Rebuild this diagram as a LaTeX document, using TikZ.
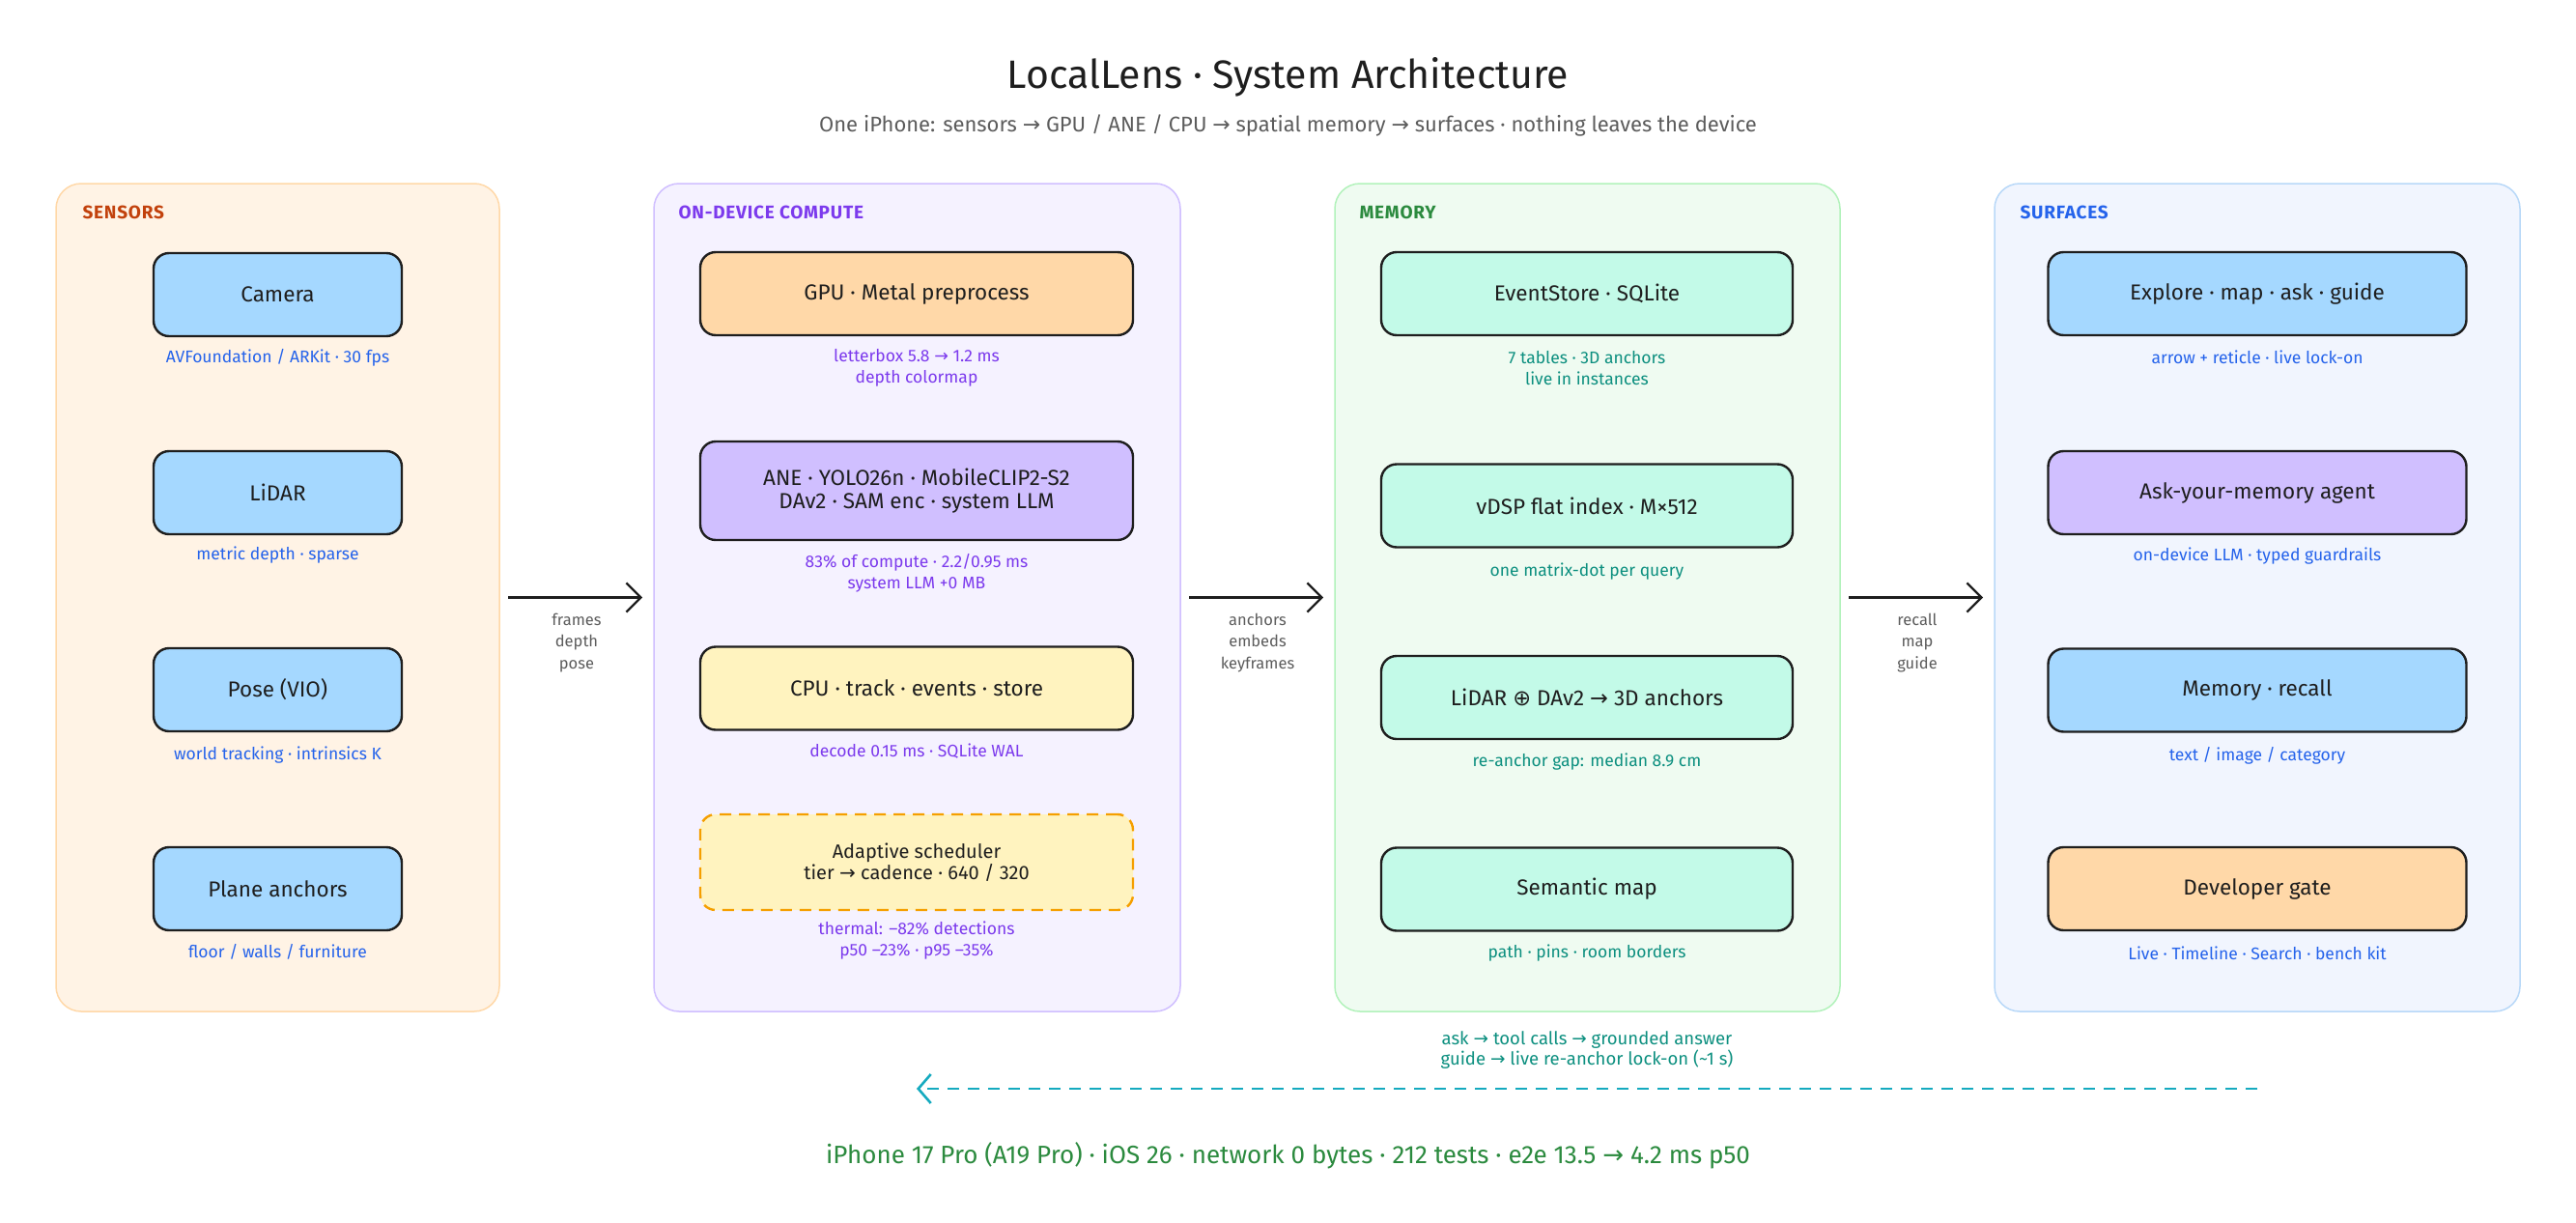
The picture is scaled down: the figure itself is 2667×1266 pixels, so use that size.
\documentclass[tikz,border=0pt]{standalone}
\usepackage{fontspec}
\setmainfont{Fira Sans}
\newfontfamily\symf{DejaVu Sans}
\usetikzlibrary{arrows.meta}

\newcommand\rarr{{\symf →}}
\newcommand\oplusg{{\symf ⊕}}

\definecolor{ink}{HTML}{1E1E1E}
\definecolor{sensbg}{HTML}{FFF3E5}
\definecolor{sensln}{HTML}{FFD8A8}
\definecolor{senstx}{HTML}{C2410C}
\definecolor{compbg}{HTML}{F5F2FF}
\definecolor{compln}{HTML}{D0BFFF}
\definecolor{comptx}{HTML}{7C3AED}
\definecolor{membg}{HTML}{EFFBF1}
\definecolor{memln}{HTML}{B2F2BB}
\definecolor{memtx}{HTML}{2B8A3E}
\definecolor{memnote}{HTML}{0C8F7F}
\definecolor{surfbg}{HTML}{F1F5FE}
\definecolor{surfln}{HTML}{B8D8F8}
\definecolor{surftx}{HTML}{2563EB}
\definecolor{blueb}{HTML}{A5D8FF}
\definecolor{orangeb}{HTML}{FFD8A8}
\definecolor{violetb}{HTML}{D0BFFF}
\definecolor{yellowb}{HTML}{FFF3BF}
\definecolor{mintb}{HTML}{C3FAE8}
\definecolor{schedln}{HTML}{F59F00}
\definecolor{backln}{HTML}{15AABF}
\definecolor{grayt}{HTML}{5C5C5C}
\definecolor{footg}{HTML}{2B8A3E}

\begin{document}
\begin{tikzpicture}[x=1pt, y=-1pt,
    panel/.style={draw, line width=1.5pt, rounded corners=26pt, minimum height=857pt, inner sep=0pt, outer sep=0pt},
    ptitle/.style={anchor=west, font=\fontsize{19}{21}\selectfont\bfseries\addfontfeature{LetterSpace=4}},
    blk/.style={draw=ink, line width=2.4pt, rounded corners=16pt, minimum height=86pt, inner sep=0pt, align=center, text=ink, font=\fontsize{22.5}{24}\selectfont},
    note/.style={align=center, font=\fontsize{17.5}{22}\selectfont},
    flowlbl/.style={align=center, text=grayt, font=\fontsize{16.5}{22.5}\selectfont},
    flow/.style={-{Straight Barb[length=15pt,width=30pt,line width=2.2pt]}, line width=2.2pt, draw=ink, shorten <=9pt, shorten >=12pt},
    backflow/.style={-{Straight Barb[length=13pt,width=30pt,line width=2.6pt]}, line width=2.6pt, draw=backln, dash pattern=on 12pt off 9pt}
]
    \useasboundingbox (0,0) rectangle (2667,1266);

    % title
    \node[font=\fontsize{41}{46}\selectfont, text=ink] (ttl) at (1333.5,80) {LocalLens · System Architecture};
    \node[font=\fontsize{22}{26}\selectfont, text=grayt] (sub) at (1333.5,130) {One iPhone: sensors \rarr{} GPU / ANE / CPU \rarr{} spatial memory \rarr{} surfaces · nothing leaves the device};

    % panels
    \node[panel, fill=sensbg, draw=sensln, minimum width=459pt] (sens) at (287.5,618.5) {};
    \node[panel, fill=compbg, draw=compln, minimum width=545pt] (comp) at (949.5,618.5) {};
    \node[panel, fill=membg, draw=memln, minimum width=523pt] (mem) at (1643.5,618.5) {};
    \node[panel, fill=surfbg, draw=surfln, minimum width=544pt] (surf) at (2337,618.5) {};

    \node[ptitle, text=senstx] (senst) at (82,220) {SENSORS};
    \node[ptitle, text=comptx] (compt) at (699,220) {ON-DEVICE COMPUTE};
    \node[ptitle, text=memtx] (memt) at (1404,220) {MEMORY};
    \node[ptitle, text=surftx] (surft) at (2088,220) {SURFACES};

    % sensors
    \node[blk, fill=blueb, minimum width=257pt] (cam) at (287.5,305) {Camera};
    \node[note, text=surftx] (camn) at (287.5,370) {AVFoundation / ARKit · 30 fps};
    \node[blk, fill=blueb, minimum width=257pt] (lidar) at (287.5,510) {LiDAR};
    \node[note, text=surftx] (lidarn) at (287.5,575) {metric depth · sparse};
    \node[blk, fill=blueb, minimum width=257pt] (pose) at (287.5,714) {Pose (VIO)};
    \node[note, text=surftx] (posen) at (287.5,782) {world tracking · intrinsics K};
    \node[blk, fill=blueb, minimum width=257pt] (plane) at (287.5,920) {Plane anchors};
    \node[note, text=surftx] (planen) at (287.5,985) {floor / walls / furniture};

    % on-device compute
    \node[blk, fill=orangeb, minimum width=448pt] (gpu) at (949,304) {GPU · Metal preprocess};
    \node[note, text=comptx] (gpun) at (949,381) {letterbox 5.8 \rarr{} 1.2 ms\\depth colormap};
    \node[blk, fill=violetb, minimum width=448pt, minimum height=102pt] (ane) at (949,508) {ANE · YOLO26n · MobileCLIP2-S2\\DAv2 · SAM enc · system LLM};
    \node[note, text=comptx] (anen) at (949,593.5) {83\% of compute · 2.2/0.95 ms\\system LLM +0 MB};
    \node[blk, fill=yellowb, minimum width=448pt] (cpu) at (949,712.5) {CPU · track · events · store};
    \node[note, text=comptx] (cpun) at (949,778) {decode 0.15 ms · SQLite WAL};
    \node[blk, fill=yellowb, draw=schedln, dash pattern=on 12pt off 8pt, minimum width=448pt, minimum height=99pt, font=\fontsize{20}{22}\selectfont] (sched) at (949,892.5) {Adaptive scheduler\\tier \rarr{} cadence · 640 / 320};
    \node[note, text=comptx] (schedn) at (949,974) {thermal: –82\% detections\\p50 –23\% · p95 –35\%};

    % memory
    \node[blk, fill=mintb, minimum width=426pt] (evs) at (1643,304) {EventStore · SQLite};
    \node[note, text=memnote] (evsn) at (1643,381) {7 tables · 3D anchors\\live in instances};
    \node[blk, fill=mintb, minimum width=426pt] (vdsp) at (1643,523.5) {vDSP flat index · M×512};
    \node[note, text=memnote] (vdspn) at (1643,592) {one matrix-dot per query};
    \node[blk, fill=mintb, minimum width=426pt] (fuse) at (1643,722) {LiDAR \oplusg{} DAv2 \rarr{} 3D anchors};
    \node[note, text=memnote] (fusen) at (1643,789) {re-anchor gap: median 8.9 cm};
    \node[blk, fill=mintb, minimum width=426pt] (smap) at (1643,920.5) {Semantic map};
    \node[note, text=memnote] (smapn) at (1643,987) {path · pins · room borders};

    % surfaces
    \node[blk, fill=blueb, minimum width=433pt] (expl) at (2337,304) {Explore · map · ask · guide};
    \node[note, text=surftx] (expln) at (2337,370) {arrow + reticle · live lock-on};
    \node[blk, fill=violetb, minimum width=433pt] (agent) at (2337,510) {Ask-your-memory agent};
    \node[note, text=surftx] (agentn) at (2337,576) {on-device LLM · typed guardrails};
    \node[blk, fill=blueb, minimum width=433pt] (recall) at (2337,714.5) {Memory · recall};
    \node[note, text=surftx] (recalln) at (2337,782) {text / image / category};
    \node[blk, fill=orangeb, minimum width=433pt] (dev) at (2337,920) {Developer gate};
    \node[note, text=surftx] (devn) at (2337,987) {Live · Timeline · Search · bench kit};

    % flows between panels
    \draw[flow] (sens.east) -- (comp.west);
    \draw[flow] (comp.east) -- (mem.west);
    \draw[flow] (mem.east) -- (surf.west);
    \node[flowlbl] (f1) at (597,665.5) {frames\\depth\\pose};
    \node[flowlbl] (f2) at (1302,665.5) {anchors\\embeds\\keyframes};
    \node[flowlbl] (f3) at (1985,665.5) {recall\\map\\guide};

    % feedback path
    \coordinate (bkS) at (2337,1127);
    \coordinate (bkE) at (949,1127);
    \draw[backflow] (bkS) -- (bkE);
    \node[note, text=memnote, font=\fontsize{18.5}{21}\selectfont] (bkn) at (1643,1087.5) {ask \rarr{} tool calls \rarr{} grounded answer\\guide \rarr{} live re-anchor lock-on (\textasciitilde 1 s)};

    % footer
    \node[font=\fontsize{26}{29}\selectfont, text=footg] (foot) at (1333.5,1196) {iPhone 17 Pro (A19 Pro) · iOS 26 · network 0 bytes · 212 tests · e2e 13.5 \rarr{} 4.2 ms p50};
\end{tikzpicture}
\end{document}
